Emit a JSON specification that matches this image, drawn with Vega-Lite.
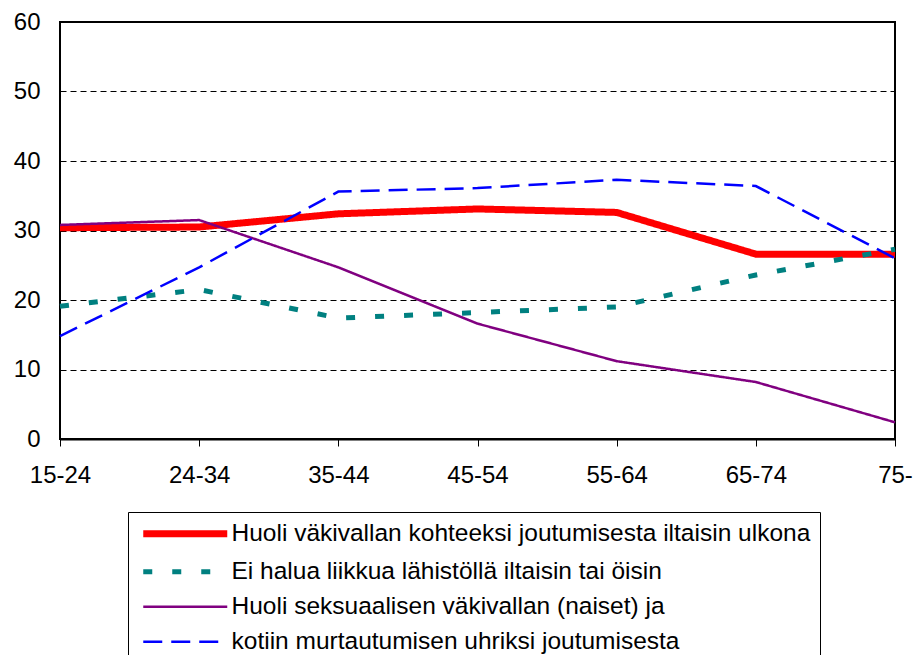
{
  "$schema": "https://vega.github.io/schema/vega-lite/v6.json",
  "autosize": "none",
  "padding": {"left": 60, "top": 22, "right": 20, "bottom": 216},
  "width": 835,
  "height": 417,
  "config": {
    "font": "Liberation Sans",
    "view": {"stroke": "black", "strokeWidth": 2},
    "background": "white"
  },
  "data": {
    "values": [
      {"ika": "15-24", "sarja": "Huoli väkivallan kohteeksi joutumisesta iltaisin ulkona", "arvo": 30.4},
      {"ika": "24-34", "sarja": "Huoli väkivallan kohteeksi joutumisesta iltaisin ulkona", "arvo": 30.5},
      {"ika": "35-44", "sarja": "Huoli väkivallan kohteeksi joutumisesta iltaisin ulkona", "arvo": 32.4},
      {"ika": "45-54", "sarja": "Huoli väkivallan kohteeksi joutumisesta iltaisin ulkona", "arvo": 33.1},
      {"ika": "55-64", "sarja": "Huoli väkivallan kohteeksi joutumisesta iltaisin ulkona", "arvo": 32.6},
      {"ika": "65-74", "sarja": "Huoli väkivallan kohteeksi joutumisesta iltaisin ulkona", "arvo": 26.6},
      {"ika": "75-", "sarja": "Huoli väkivallan kohteeksi joutumisesta iltaisin ulkona", "arvo": 26.6},
      {"ika": "15-24", "sarja": "Ei halua liikkua lähistöllä iltaisin tai öisin", "arvo": 19.1},
      {"ika": "24-34", "sarja": "Ei halua liikkua lähistöllä iltaisin tai öisin", "arvo": 21.5},
      {"ika": "35-44", "sarja": "Ei halua liikkua lähistöllä iltaisin tai öisin", "arvo": 17.4},
      {"ika": "45-54", "sarja": "Ei halua liikkua lähistöllä iltaisin tai öisin", "arvo": 18.2},
      {"ika": "55-64", "sarja": "Ei halua liikkua lähistöllä iltaisin tai öisin", "arvo": 19.0},
      {"ika": "65-74", "sarja": "Ei halua liikkua lähistöllä iltaisin tai öisin", "arvo": 23.6},
      {"ika": "75-", "sarja": "Ei halua liikkua lähistöllä iltaisin tai öisin", "arvo": 27.3},
      {"ika": "15-24", "sarja": "Huoli seksuaalisen väkivallan (naiset) ja", "arvo": 30.8},
      {"ika": "24-34", "sarja": "Huoli seksuaalisen väkivallan (naiset) ja", "arvo": 31.5},
      {"ika": "35-44", "sarja": "Huoli seksuaalisen väkivallan (naiset) ja", "arvo": 24.7},
      {"ika": "45-54", "sarja": "Huoli seksuaalisen väkivallan (naiset) ja", "arvo": 16.6},
      {"ika": "55-64", "sarja": "Huoli seksuaalisen väkivallan (naiset) ja", "arvo": 11.2},
      {"ika": "65-74", "sarja": "Huoli seksuaalisen väkivallan (naiset) ja", "arvo": 8.2},
      {"ika": "75-", "sarja": "Huoli seksuaalisen väkivallan (naiset) ja", "arvo": 2.4},
      {"ika": "15-24", "sarja": "kotiin murtautumisen uhriksi joutumisesta", "arvo": 14.8},
      {"ika": "24-34", "sarja": "kotiin murtautumisen uhriksi joutumisesta", "arvo": 24.7},
      {"ika": "35-44", "sarja": "kotiin murtautumisen uhriksi joutumisesta", "arvo": 35.6},
      {"ika": "45-54", "sarja": "kotiin murtautumisen uhriksi joutumisesta", "arvo": 36.1},
      {"ika": "55-64", "sarja": "kotiin murtautumisen uhriksi joutumisesta", "arvo": 37.3},
      {"ika": "65-74", "sarja": "kotiin murtautumisen uhriksi joutumisesta", "arvo": 36.4},
      {"ika": "75-", "sarja": "kotiin murtautumisen uhriksi joutumisesta", "arvo": 26.0}
    ]
  },
  "mark": {"type": "line", "strokeJoin": "miter"},
  "encoding": {
    "x": {
      "field": "ika", "type": "ordinal",
      "sort": ["15-24", "24-34", "35-44", "45-54", "55-64", "65-74", "75-"],
      "scale": {"type": "point", "padding": 0},
      "axis": {
        "title": null, "labelAngle": 0, "labelFontSize": 24, "labelColor": "black",
        "labelPadding": 17, "ticks": true, "tickSize": 7, "tickColor": "black", "tickWidth": 1,
        "domain": true, "domainColor": "black", "domainWidth": 2, "grid": false
      }
    },
    "y": {
      "field": "arvo", "type": "quantitative",
      "scale": {"domain": [0, 60], "nice": false},
      "axis": {
        "title": null, "values": [0, 10, 20, 30, 40, 50, 60], "labelFontSize": 24, "labelColor": "black",
        "labelPadding": 20, "ticks": false, "domain": false,
        "grid": true, "gridColor": "black", "gridDash": [6, 4], "gridWidth": 1, "gridOpacity": 1
      }
    },
    "color": {
      "field": "sarja", "type": "nominal",
      "scale": {
        "domain": ["Huoli väkivallan kohteeksi joutumisesta iltaisin ulkona", "Ei halua liikkua lähistöllä iltaisin tai öisin", "Huoli seksuaalisen väkivallan (naiset) ja", "kotiin murtautumisen uhriksi joutumisesta"],
        "range": ["#ff0000", "#008080", "#800080", "#0000ff"]
      },
      "legend": {
        "title": null, "orient": "none", "legendX": 68, "legendY": 490,
        "strokeColor": "black", "fillColor": "white", "padding": 9.5,
        "symbolType": "M-6,0H6", "symbolSize": 196, "symbolOffset": 35.5,
        "labelFontSize": 24.5, "labelColor": "black",
        "labelLimit": 800, "labelOffset": 34, "rowPadding": 10
      }
    },
    "strokeDash": {
      "field": "sarja", "type": "nominal",
      "scale": {
        "domain": ["Huoli väkivallan kohteeksi joutumisesta iltaisin ulkona", "Ei halua liikkua lähistöllä iltaisin tai öisin", "Huoli seksuaalisen väkivallan (naiset) ja", "kotiin murtautumisen uhriksi joutumisesta"],
        "range": [[1, 0], [9, 20], [1, 0], [19, 9]]
      },
      "legend": null
    },
    "strokeWidth": {
      "field": "sarja", "type": "nominal",
      "scale": {
        "type": "ordinal",
        "domain": ["Huoli väkivallan kohteeksi joutumisesta iltaisin ulkona", "Ei halua liikkua lähistöllä iltaisin tai öisin", "Huoli seksuaalisen väkivallan (naiset) ja", "kotiin murtautumisen uhriksi joutumisesta"],
        "range": [7, 5, 2.5, 2.5]
      },
      "legend": null
    }
  }
}
